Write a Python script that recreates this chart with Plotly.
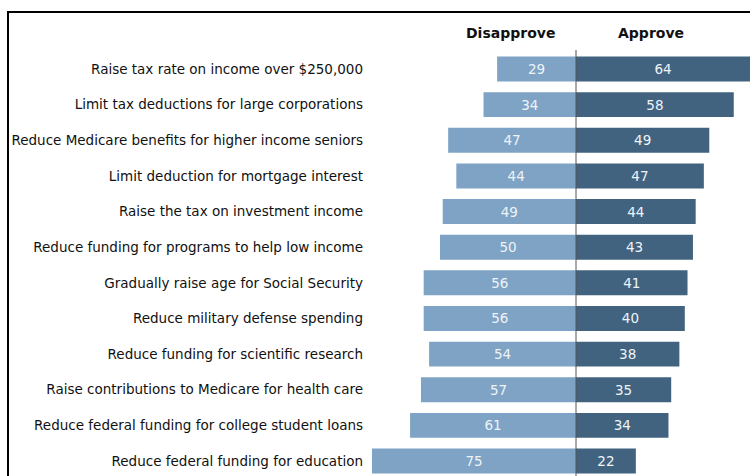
import plotly.graph_objects as go

categories = [
    "Raise tax rate on income over $250,000",
    "Limit tax deductions for large corporations",
    "Reduce Medicare benefits for higher income seniors",
    "Limit deduction for mortgage interest",
    "Raise the tax on investment income",
    "Reduce funding for programs to help low income",
    "Gradually raise age for Social Security",
    "Reduce military defense spending",
    "Reduce funding for scientific research",
    "Raise contributions to Medicare for health care",
    "Reduce federal funding for college student loans",
    "Reduce federal funding for education",
]
disapprove = [29, 34, 47, 44, 49, 50, 56, 56, 54, 57, 61, 75]
approve = [64, 58, 49, 47, 44, 43, 41, 40, 38, 35, 34, 22]

W, H = 750, 476
L = 368
TOP = 51
plot_h = H - TOP
ppu = 2.72
center_px = 576

fig = go.Figure()
fig.add_trace(go.Bar(
    y=categories, x=[-v for v in disapprove], orientation="h",
    marker=dict(color="#7ea3c5", line=dict(width=0)),
    text=[str(v) for v in disapprove], textposition="inside",
    insidetextanchor="middle",
    textfont=dict(family="DejaVu Sans", size=13.5, color="#eef3f8"),
    width=0.7, name="Disapprove", hoverinfo="skip",
))
fig.add_trace(go.Bar(
    y=categories, x=approve, orientation="h",
    marker=dict(color="#41637f", line=dict(width=0)),
    text=[str(v) for v in approve], textposition="inside",
    insidetextanchor="middle",
    textfont=dict(family="DejaVu Sans", size=13.5, color="#eef3f8"),
    width=0.7, name="Approve", hoverinfo="skip",
))

row0 = 69
spacing = 35.64
ybottom = (H - row0) / spacing
ytop = (TOP - row0) / spacing

fig.update_layout(
    width=W, height=H,
    margin=dict(l=L, r=0, t=TOP, b=0),
    barmode="relative",
    showlegend=False,
    plot_bgcolor="white", paper_bgcolor="white",
    uniformtext=dict(minsize=8, mode="show"),
    xaxis=dict(range=[-(center_px - L) / ppu, (W - center_px) / ppu],
               visible=False, fixedrange=True),
    yaxis=dict(type="category", range=[ybottom, ytop], showgrid=False,
               zeroline=False, showline=False, ticks="",
               ticklabelstandoff=4,
               tickfont=dict(family="DejaVu Sans", size=13.5, color="#111111")),
    font=dict(family="DejaVu Sans"),
)

# center line
fig.add_shape(type="line", xref="x", yref="paper", x0=0, x1=0,
              y0=0, y1=(H - 50) / plot_h, line=dict(color="#555555", width=1))
# frame
fig.add_shape(type="rect", xref="paper", yref="paper",
              x0=(8 - L) / (W - L), x1=1.2,
              y0=-0.2, y1=(H - 12) / plot_h,
              line=dict(color="black", width=2), fillcolor="rgba(0,0,0,0)")

fig.add_annotation(text="<b>Disapprove</b>", xref="x", yref="paper",
                   x=(510 - center_px) / ppu, y=(H - 33) / plot_h,
                   xanchor="center", yanchor="middle",
                   showarrow=False, font=dict(family="DejaVu Sans", size=14, color="#111111"))
fig.add_annotation(text="<b>Approve</b>", xref="x", yref="paper",
                   x=(651 - center_px) / ppu, y=(H - 33) / plot_h,
                   xanchor="center", yanchor="middle",
                   showarrow=False, font=dict(family="DejaVu Sans", size=14, color="#111111"))

fig.write_html("out.html")
